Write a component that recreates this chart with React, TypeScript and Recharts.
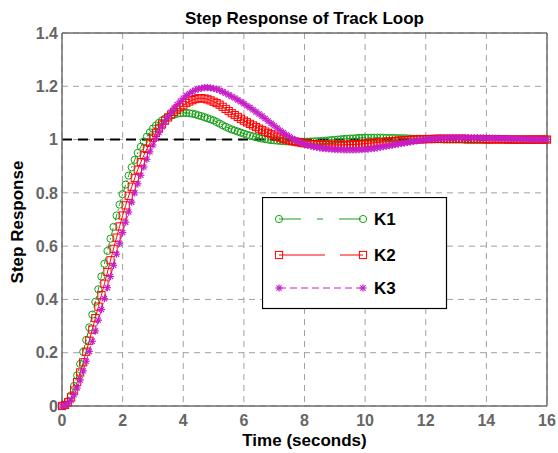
import React from 'react';
import { LineChart, Line, XAxis, YAxis, CartesianGrid, ReferenceLine, Legend, Label } from 'recharts';

const time = [
  0, 0.1, 0.2, 0.3, 0.4, 0.5, 0.6, 0.7, 0.8, 0.9,
  1, 1.1, 1.2, 1.3, 1.4, 1.5, 1.6, 1.7, 1.8, 1.9,
  2, 2.1, 2.2, 2.3, 2.4, 2.5, 2.6, 2.7, 2.8, 2.9,
  3, 3.1, 3.2, 3.3, 3.4, 3.5, 3.6, 3.7, 3.8, 3.9,
  4, 4.1, 4.2, 4.3, 4.4, 4.5, 4.6, 4.7, 4.8, 4.9,
  5, 5.1, 5.2, 5.3, 5.4, 5.5, 5.6, 5.7, 5.8, 5.9,
  6, 6.1, 6.2, 6.3, 6.4, 6.5, 6.6, 6.7, 6.8, 6.9,
  7, 7.1, 7.2, 7.3, 7.4, 7.5, 7.6, 7.7, 7.8, 7.9,
  8, 8.1, 8.2, 8.3, 8.4, 8.5, 8.6, 8.7, 8.8, 8.9,
  9, 9.1, 9.2, 9.3, 9.4, 9.5, 9.6, 9.7, 9.8, 9.9,
  10, 10.1, 10.2, 10.3, 10.4, 10.5, 10.6, 10.7, 10.8, 10.9,
  11, 11.1, 11.2, 11.3, 11.4, 11.5, 11.6, 11.7, 11.8, 11.9,
  12, 12.1, 12.2, 12.3, 12.4, 12.5, 12.6, 12.7, 12.8, 12.9,
  13, 13.1, 13.2, 13.3, 13.4, 13.5, 13.6, 13.7, 13.8, 13.9,
  14, 14.1, 14.2, 14.3, 14.4, 14.5, 14.6, 14.7, 14.8, 14.9,
  15, 15.1, 15.2, 15.3, 15.4, 15.5, 15.6, 15.7, 15.8, 15.9,
  16,
];

const k1 = [
  0, 0.005, 0.018, 0.040, 0.075, 0.115, 0.158, 0.203, 0.248, 0.295,
  0.343, 0.391, 0.438, 0.486, 0.534, 0.582, 0.628, 0.672, 0.715, 0.756,
  0.795, 0.831, 0.865, 0.896, 0.924, 0.950, 0.973, 0.993, 1.011, 1.027,
  1.041, 1.053, 1.063, 1.072, 1.079, 1.085, 1.090, 1.094, 1.097, 1.099,
  1.100, 1.100, 1.099, 1.097, 1.095, 1.091, 1.088, 1.084, 1.080, 1.076,
  1.072, 1.066, 1.060, 1.054, 1.048, 1.043, 1.038, 1.034, 1.030, 1.026,
  1.022, 1.018, 1.015, 1.012, 1.009, 1.006, 1.004, 1.002, 1.000, 0.998,
  0.997, 0.996, 0.995, 0.994, 0.993, 0.993, 0.993, 0.992, 0.992, 0.992,
  0.992, 0.992, 0.993, 0.993, 0.994, 0.994, 0.995, 0.996, 0.997, 0.998,
  0.999, 1.000, 1.001, 1.002, 1.003, 1.004, 1.004, 1.005, 1.006, 1.006,
  1.007, 1.007, 1.007, 1.007, 1.007, 1.007, 1.007, 1.006, 1.006, 1.006,
  1.006, 1.005, 1.005, 1.005, 1.004, 1.004, 1.003, 1.003, 1.003, 1.002,
  1.002, 1.002, 1.001, 1.001, 1.001, 1.001, 1.000, 1.000, 1.000, 1.000,
  1.000, 1.000, 1.000, 0.999, 0.999, 0.999, 0.999, 0.999, 0.999, 0.999,
  0.999, 0.999, 1.000, 1.000, 1.000, 1.000, 1.000, 1.000, 1.000, 1.000,
  1.000, 1.000, 1.000, 1.000, 1.000, 1.000, 1.000, 1.000, 1.000, 1.000,
  1.000,
];

const k2 = [
  0, 0.004, 0.014, 0.032, 0.058, 0.090, 0.126, 0.164, 0.204, 0.245,
  0.287, 0.330, 0.373, 0.416, 0.459, 0.503, 0.547, 0.590, 0.632, 0.674,
  0.715, 0.753, 0.789, 0.823, 0.856, 0.887, 0.915, 0.941, 0.965, 0.987,
  1.007, 1.025, 1.042, 1.057, 1.071, 1.083, 1.094, 1.104, 1.113, 1.121,
  1.129, 1.137, 1.143, 1.148, 1.152, 1.155, 1.155, 1.154, 1.151, 1.147,
  1.142, 1.137, 1.131, 1.123, 1.115, 1.107, 1.099, 1.092, 1.085, 1.078,
  1.071, 1.065, 1.059, 1.053, 1.047, 1.041, 1.036, 1.030, 1.025, 1.020,
  1.015, 1.011, 1.007, 1.003, 1.000, 0.997, 0.994, 0.992, 0.990, 0.988,
  0.986, 0.985, 0.984, 0.983, 0.982, 0.981, 0.981, 0.980, 0.980, 0.980,
  0.980, 0.980, 0.980, 0.980, 0.981, 0.981, 0.982, 0.982, 0.983, 0.984,
  0.985, 0.986, 0.987, 0.988, 0.989, 0.990, 0.991, 0.992, 0.993, 0.994,
  0.995, 0.996, 0.997, 0.998, 0.998, 0.999, 1.000, 1.000, 1.001, 1.001,
  1.002, 1.002, 1.002, 1.003, 1.003, 1.003, 1.003, 1.003, 1.003, 1.003,
  1.003, 1.003, 1.003, 1.003, 1.002, 1.002, 1.002, 1.002, 1.002, 1.002,
  1.001, 1.001, 1.001, 1.001, 1.001, 1.001, 1.001, 1.000, 1.000, 1.000,
  1.000, 1.000, 1.000, 1.000, 1.000, 1.000, 1.000, 1.000, 1.000, 1.000,
  1.000,
];

const k3 = [
  0, 0.002, 0.009, 0.022, 0.042, 0.068, 0.098, 0.132, 0.168, 0.205,
  0.243, 0.282, 0.322, 0.362, 0.403, 0.444, 0.486, 0.528, 0.570, 0.611,
  0.651, 0.690, 0.728, 0.765, 0.800, 0.834, 0.866, 0.897, 0.926, 0.954,
  0.980, 1.004, 1.027, 1.048, 1.068, 1.086, 1.103, 1.118, 1.132, 1.144,
  1.155, 1.165, 1.173, 1.180, 1.186, 1.190, 1.193, 1.195, 1.195, 1.194,
  1.192, 1.189, 1.185, 1.180, 1.174, 1.168, 1.162, 1.156, 1.149, 1.142,
  1.135, 1.127, 1.120, 1.112, 1.104, 1.096, 1.088, 1.079, 1.070, 1.061,
  1.052, 1.043, 1.034, 1.026, 1.018, 1.011, 1.004, 0.998, 0.992, 0.987,
  0.983, 0.979, 0.976, 0.973, 0.971, 0.969, 0.967, 0.966, 0.965, 0.964,
  0.963, 0.962, 0.962, 0.961, 0.961, 0.961, 0.961, 0.961, 0.962, 0.962,
  0.963, 0.964, 0.966, 0.967, 0.969, 0.971, 0.973, 0.975, 0.977, 0.979,
  0.981, 0.983, 0.985, 0.987, 0.989, 0.991, 0.993, 0.995, 0.997, 0.998,
  1.000, 1.001, 1.002, 1.003, 1.004, 1.005, 1.005, 1.006, 1.006, 1.007,
  1.007, 1.007, 1.007, 1.007, 1.007, 1.007, 1.007, 1.007, 1.006, 1.006,
  1.006, 1.006, 1.005, 1.005, 1.005, 1.004, 1.004, 1.004, 1.003, 1.003,
  1.003, 1.002, 1.002, 1.002, 1.001, 1.001, 1.001, 1.001, 1.000, 1.000,
  1.000,
];

const xTicks = [0, 2, 4, 6, 8, 10, 12, 14, 16];
const yTicks = [0, 0.2, 0.4, 0.6, 0.8, 1, 1.2, 1.4];
const steadyState = 1;
const seriesKeys = ['k1', 'k2', 'k3'];
const seriesNames = ['K1', 'K2', 'K3'];
const seriesColors = ['#14a014', '#ff0000', '#c71ec7'];
const titleText = 'Step Response of Track Loop';
const xLabelText = 'Time (seconds)';
const yLabelText = 'Step Response';

const data = time.map((t, i) => ({ t, k1: k1[i], k2: k2[i], k3: k3[i] }));

const FONT = '"Liberation Sans", Arial, Helvetica, sans-serif';
const AXIS_COLOR = '#6e6e6e';

function circleMarker(cx: number, cy: number, color: string, key: string) {
  return <circle key={key} cx={cx} cy={cy} r={3.6} fill="none" stroke={color} strokeWidth={1} />;
}
function squareMarker(cx: number, cy: number, color: string, key: string) {
  return <rect key={key} x={cx - 3.6} y={cy - 3.6} width={7.2} height={7.2} fill="none" stroke={color} strokeWidth={1} />;
}
function starMarker(cx: number, cy: number, color: string, key: string) {
  const r = 3.6;
  const d = 2.6;
  return (
    <g key={key} stroke={color} strokeWidth={1.2}>
      <line x1={cx - r} y1={cy} x2={cx + r} y2={cy} />
      <line x1={cx} y1={cy - r} x2={cx} y2={cy + r} />
      <line x1={cx - d} y1={cy - d} x2={cx + d} y2={cy + d} />
      <line x1={cx - d} y1={cy + d} x2={cx + d} y2={cy - d} />
    </g>
  );
}
const markers = [circleMarker, squareMarker, starMarker];
const lineDash = ['7 3 2 3', undefined, '6 3'];
const legendDash = ['22 16 6 16', '46 15 30', '7 4'];

const makeDot = (si: number) => (p: any) => {
  if (p == null || p.cx == null || p.cy == null) return <g key={`e${si}-${p?.index}`} />;
  return markers[si](p.cx, p.cy, seriesColors[si], `m${si}-${p.index}`);
};

const LegendBox = () => {
  const rows = [22, 58, 91];
  return (
    <svg width={186} height={113} style={{ display: 'block' }}>
      <rect x={0.5} y={0.5} width={184} height={111} fill="#fff" stroke="#000" strokeWidth={1.2} />
      {seriesNames.map((name, i) => (
        <g key={name}>
          <line x1={17} y1={rows[i]} x2={101} y2={rows[i]} stroke={seriesColors[i]} strokeWidth={1} strokeDasharray={legendDash[i]} />
          {markers[i](17, rows[i], seriesColors[i], `la${i}`)}
          {markers[i](101, rows[i], seriesColors[i], `lb${i}`)}
          <text x={112} y={rows[i]} dy="0.36em" fontSize={17} fontWeight="bold" fontFamily={FONT} fill="#000">
            {name}
          </text>
        </g>
      ))}
    </svg>
  );
};

export default function App() {
  const tickStyle = { fill: '#666666', fontSize: 16, fontWeight: 'bold' as const, fontFamily: FONT };
  return (
    <div style={{ position: 'absolute', left: 0, top: 0, width: 558, height: 453, background: '#fff' }}>
      <div
        style={{
          position: 'absolute',
          left: 0,
          top: 9,
          width: 609,
          textAlign: 'center',
          fontFamily: FONT,
          fontWeight: 'bold',
          fontSize: 17,
          lineHeight: '20px',
          color: '#000',
          zIndex: 2,
        }}
      >
        {titleText}
      </div>
      <LineChart
        width={558}
        height={453}
        data={data}
        margin={{ top: 33, right: 11, left: 0, bottom: 17 }}
        style={{ fontFamily: FONT }}
      >
        <CartesianGrid stroke="#a0a0a0" strokeDasharray="6 5" strokeWidth={1} />
        <XAxis
          type="number"
          dataKey="t"
          domain={[0, 16]}
          ticks={xTicks}
          interval={0}
          height={30}
          tickSize={0}
          tickMargin={9}
          tickLine={false}
          axisLine={{ stroke: AXIS_COLOR, strokeWidth: 1.5 }}
          tick={tickStyle}
        >
          <Label
            content={() => (
              <text x={304.5} y={446} textAnchor="middle" fontSize={17} fontWeight="bold" fontFamily={FONT} fill="#000">
                {xLabelText}
              </text>
            )}
          />
        </XAxis>
        <YAxis
          type="number"
          domain={[0, 1.4]}
          ticks={yTicks}
          interval={0}
          width={62}
          tickSize={0}
          tickMargin={4}
          tickLine={false}
          axisLine={{ stroke: AXIS_COLOR, strokeWidth: 1.5 }}
          tick={tickStyle}
        >
          <Label
            content={() => (
              <text
                x={23}
                y={222}
                transform="rotate(-90, 23, 222)"
                textAnchor="middle"
                fontSize={17}
                fontWeight="bold"
                fontFamily={FONT}
                fill="#000"
              >
                {yLabelText}
              </text>
            )}
          />
        </YAxis>
        <ReferenceLine y={1.4} stroke={AXIS_COLOR} strokeWidth={1.5} />
        <ReferenceLine x={16} stroke={AXIS_COLOR} strokeWidth={1.5} />
        {seriesKeys.map((k, i) => (
          <Line
            key={k}
            type="linear"
            dataKey={k}
            name={seriesNames[i]}
            stroke={seriesColors[i]}
            strokeWidth={1}
            strokeDasharray={lineDash[i]}
            dot={makeDot(i)}
            activeDot={false}
            isAnimationActive={false}
          />
        ))}
        <ReferenceLine y={steadyState} stroke="#000" strokeWidth={2} strokeDasharray="10 6" />
        <Legend
          layout="vertical"
          align="center"
          verticalAlign="middle"
          width={186}
          height={113}
          wrapperStyle={{ left: 262, top: 197, width: 186, height: 113 }}
          content={() => <LegendBox />}
        />
      </LineChart>
    </div>
  );
}
